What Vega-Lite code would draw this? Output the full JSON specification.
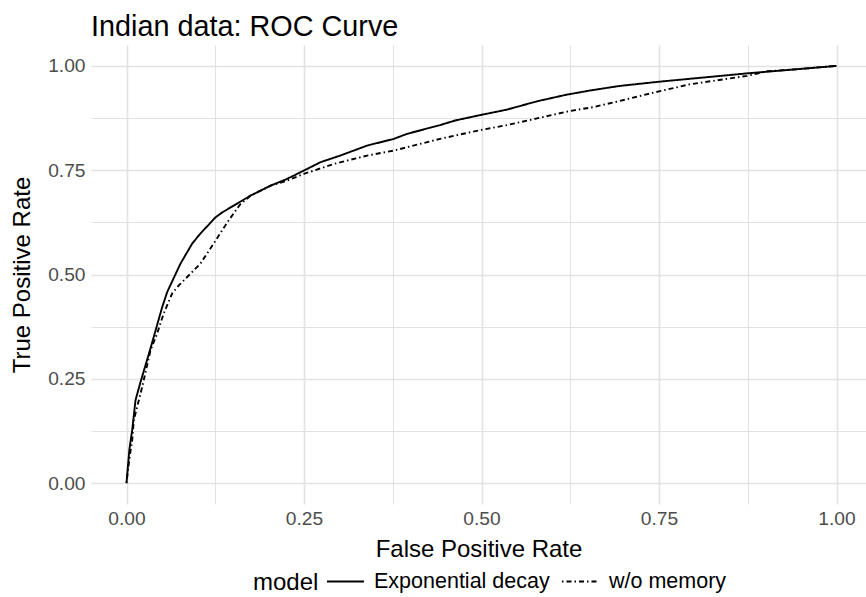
{
  "$schema": "https://vega.github.io/schema/vega-lite/v6.json",
  "autosize": "none",
  "width": 775,
  "height": 459,
  "padding": {"left": 91, "top": 45, "right": 0, "bottom": 93},
  "background": "white",
  "title": {
    "text": "Indian data: ROC Curve",
    "anchor": "start",
    "frame": "group",
    "font": "Liberation Sans",
    "fontSize": 28.8,
    "fontWeight": "normal",
    "color": "black",
    "baseline": "alphabetic",
    "offset": 11,
    "dy": 31
  },
  "data": {
    "values": [
      {"model": "Exponential decay", "fpr": 0.0, "tpr": 0.0},
      {"model": "Exponential decay", "fpr": 0.001, "tpr": 0.02},
      {"model": "Exponential decay", "fpr": 0.004, "tpr": 0.08},
      {"model": "Exponential decay", "fpr": 0.008, "tpr": 0.127},
      {"model": "Exponential decay", "fpr": 0.0127, "tpr": 0.199},
      {"model": "Exponential decay", "fpr": 0.0197, "tpr": 0.242},
      {"model": "Exponential decay", "fpr": 0.0338, "tpr": 0.323},
      {"model": "Exponential decay", "fpr": 0.0503, "tpr": 0.422},
      {"model": "Exponential decay", "fpr": 0.0573, "tpr": 0.458},
      {"model": "Exponential decay", "fpr": 0.076, "tpr": 0.526},
      {"model": "Exponential decay", "fpr": 0.0925, "tpr": 0.574},
      {"model": "Exponential decay", "fpr": 0.104, "tpr": 0.598},
      {"model": "Exponential decay", "fpr": 0.1254, "tpr": 0.637},
      {"model": "Exponential decay", "fpr": 0.135, "tpr": 0.649},
      {"model": "Exponential decay", "fpr": 0.1746, "tpr": 0.689},
      {"model": "Exponential decay", "fpr": 0.203, "tpr": 0.713},
      {"model": "Exponential decay", "fpr": 0.226, "tpr": 0.729},
      {"model": "Exponential decay", "fpr": 0.2497, "tpr": 0.749},
      {"model": "Exponential decay", "fpr": 0.273, "tpr": 0.769},
      {"model": "Exponential decay", "fpr": 0.301, "tpr": 0.785},
      {"model": "Exponential decay", "fpr": 0.339, "tpr": 0.809},
      {"model": "Exponential decay", "fpr": 0.3765, "tpr": 0.825},
      {"model": "Exponential decay", "fpr": 0.395, "tpr": 0.837},
      {"model": "Exponential decay", "fpr": 0.4415, "tpr": 0.858},
      {"model": "Exponential decay", "fpr": 0.4627, "tpr": 0.869},
      {"model": "Exponential decay", "fpr": 0.4979, "tpr": 0.882},
      {"model": "Exponential decay", "fpr": 0.5355, "tpr": 0.895},
      {"model": "Exponential decay", "fpr": 0.578, "tpr": 0.915},
      {"model": "Exponential decay", "fpr": 0.62, "tpr": 0.931},
      {"model": "Exponential decay", "fpr": 0.653, "tpr": 0.941},
      {"model": "Exponential decay", "fpr": 0.695, "tpr": 0.952},
      {"model": "Exponential decay", "fpr": 0.75, "tpr": 0.962},
      {"model": "Exponential decay", "fpr": 0.874, "tpr": 0.982},
      {"model": "Exponential decay", "fpr": 1.0, "tpr": 1.0},
      {"model": "w/o memory", "fpr": 0.0, "tpr": 0.0},
      {"model": "w/o memory", "fpr": 0.002, "tpr": 0.03},
      {"model": "w/o memory", "fpr": 0.005, "tpr": 0.07},
      {"model": "w/o memory", "fpr": 0.008, "tpr": 0.103},
      {"model": "w/o memory", "fpr": 0.0103, "tpr": 0.151},
      {"model": "w/o memory", "fpr": 0.022, "tpr": 0.23},
      {"model": "w/o memory", "fpr": 0.0338, "tpr": 0.318},
      {"model": "w/o memory", "fpr": 0.0432, "tpr": 0.359},
      {"model": "w/o memory", "fpr": 0.0525, "tpr": 0.407},
      {"model": "w/o memory", "fpr": 0.0644, "tpr": 0.455},
      {"model": "w/o memory", "fpr": 0.0737, "tpr": 0.474},
      {"model": "w/o memory", "fpr": 0.0855, "tpr": 0.494},
      {"model": "w/o memory", "fpr": 0.104, "tpr": 0.526},
      {"model": "w/o memory", "fpr": 0.125, "tpr": 0.58},
      {"model": "w/o memory", "fpr": 0.142, "tpr": 0.625},
      {"model": "w/o memory", "fpr": 0.16, "tpr": 0.668},
      {"model": "w/o memory", "fpr": 0.175, "tpr": 0.689},
      {"model": "w/o memory", "fpr": 0.203, "tpr": 0.713},
      {"model": "w/o memory", "fpr": 0.226, "tpr": 0.725},
      {"model": "w/o memory", "fpr": 0.2497, "tpr": 0.741},
      {"model": "w/o memory", "fpr": 0.292, "tpr": 0.765},
      {"model": "w/o memory", "fpr": 0.339, "tpr": 0.785},
      {"model": "w/o memory", "fpr": 0.3765, "tpr": 0.797},
      {"model": "w/o memory", "fpr": 0.4415, "tpr": 0.825},
      {"model": "w/o memory", "fpr": 0.4979, "tpr": 0.846},
      {"model": "w/o memory", "fpr": 0.5355, "tpr": 0.858},
      {"model": "w/o memory", "fpr": 0.578, "tpr": 0.874},
      {"model": "w/o memory", "fpr": 0.625, "tpr": 0.892},
      {"model": "w/o memory", "fpr": 0.657, "tpr": 0.901},
      {"model": "w/o memory", "fpr": 0.69, "tpr": 0.914},
      {"model": "w/o memory", "fpr": 0.75, "tpr": 0.939},
      {"model": "w/o memory", "fpr": 0.794, "tpr": 0.956},
      {"model": "w/o memory", "fpr": 0.874, "tpr": 0.976},
      {"model": "w/o memory", "fpr": 0.902, "tpr": 0.987},
      {"model": "w/o memory", "fpr": 0.945, "tpr": 0.992},
      {"model": "w/o memory", "fpr": 1.0, "tpr": 1.0}
    ]
  },
  "mark": {"type": "line", "color": "black", "strokeWidth": 1.9, "interpolate": "linear"},
  "encoding": {
    "x": {
      "field": "fpr",
      "type": "quantitative",
      "title": "False Positive Rate",
      "scale": {"domain": [-0.05, 1.0415], "nice": false, "zero": false},
      "axis": {
        "values": [0, 0.125, 0.25, 0.375, 0.5, 0.625, 0.75, 0.875, 1],
        "labelExpr": "(datum.value * 4) % 1 == 0 ? format(datum.value, '.2f') : ''",
        "gridWidth": {"condition": {"test": "(datum.value * 4) % 1 == 0", "value": 1.6}, "value": 1.1},
        "labelPadding": 5,
        "titlePadding": 9
      }
    },
    "y": {
      "field": "tpr",
      "type": "quantitative",
      "title": "True Positive Rate",
      "scale": {"domain": [-0.05, 1.05], "nice": false, "zero": false},
      "axis": {
        "values": [0, 0.125, 0.25, 0.375, 0.5, 0.625, 0.75, 0.875, 1],
        "labelExpr": "(datum.value * 4) % 1 == 0 ? format(datum.value, '.2f') : ''",
        "gridWidth": {"condition": {"test": "(datum.value * 4) % 1 == 0", "value": 1.6}, "value": 1.1},
        "labelPadding": 6,
        "titlePadding": 13
      }
    },
    "strokeDash": {
      "field": "model",
      "type": "nominal",
      "title": "model",
      "scale": {"domain": ["Exponential decay", "w/o memory"], "range": [[1, 0], [1.5, 3, 5, 3]]},
      "legend": {
        "orient": "none",
        "legendX": 162,
        "legendY": 517,
        "direction": "horizontal",
        "titleOrient": "left",
        "titleBaseline": "line-top",
        "titleLineHeight": 12
      }
    }
  },
  "config": {
    "font": "Liberation Sans",
    "view": {"stroke": null},
    "axis": {
      "domain": false,
      "ticks": false,
      "grid": true,
      "gridColor": "#E2E2E2",
      "labelFont": "Liberation Sans",
      "labelFontSize": 19.2,
      "labelColor": "#4D4D4D",
      "titleFont": "Liberation Sans",
      "titleFontSize": 24,
      "titleFontWeight": "normal",
      "titleColor": "black",
      "labelFlush": false,
      "labelOverlap": false
    },
    "legend": {
      "titleFont": "Liberation Sans",
      "titleFontSize": 24,
      "titleFontWeight": "normal",
      "titleColor": "black",
      "titlePadding": 7,
      "labelFont": "Liberation Sans",
      "labelFontSize": 21.5,
      "labelLimit": 400,
      "labelColor": "black",
      "labelOffset": 9,
      "columnPadding": 8,
      "symbolType": "stroke",
      "symbolSize": 1369,
      "symbolStrokeWidth": 1.9,
      "symbolStrokeColor": "black"
    }
  }
}
